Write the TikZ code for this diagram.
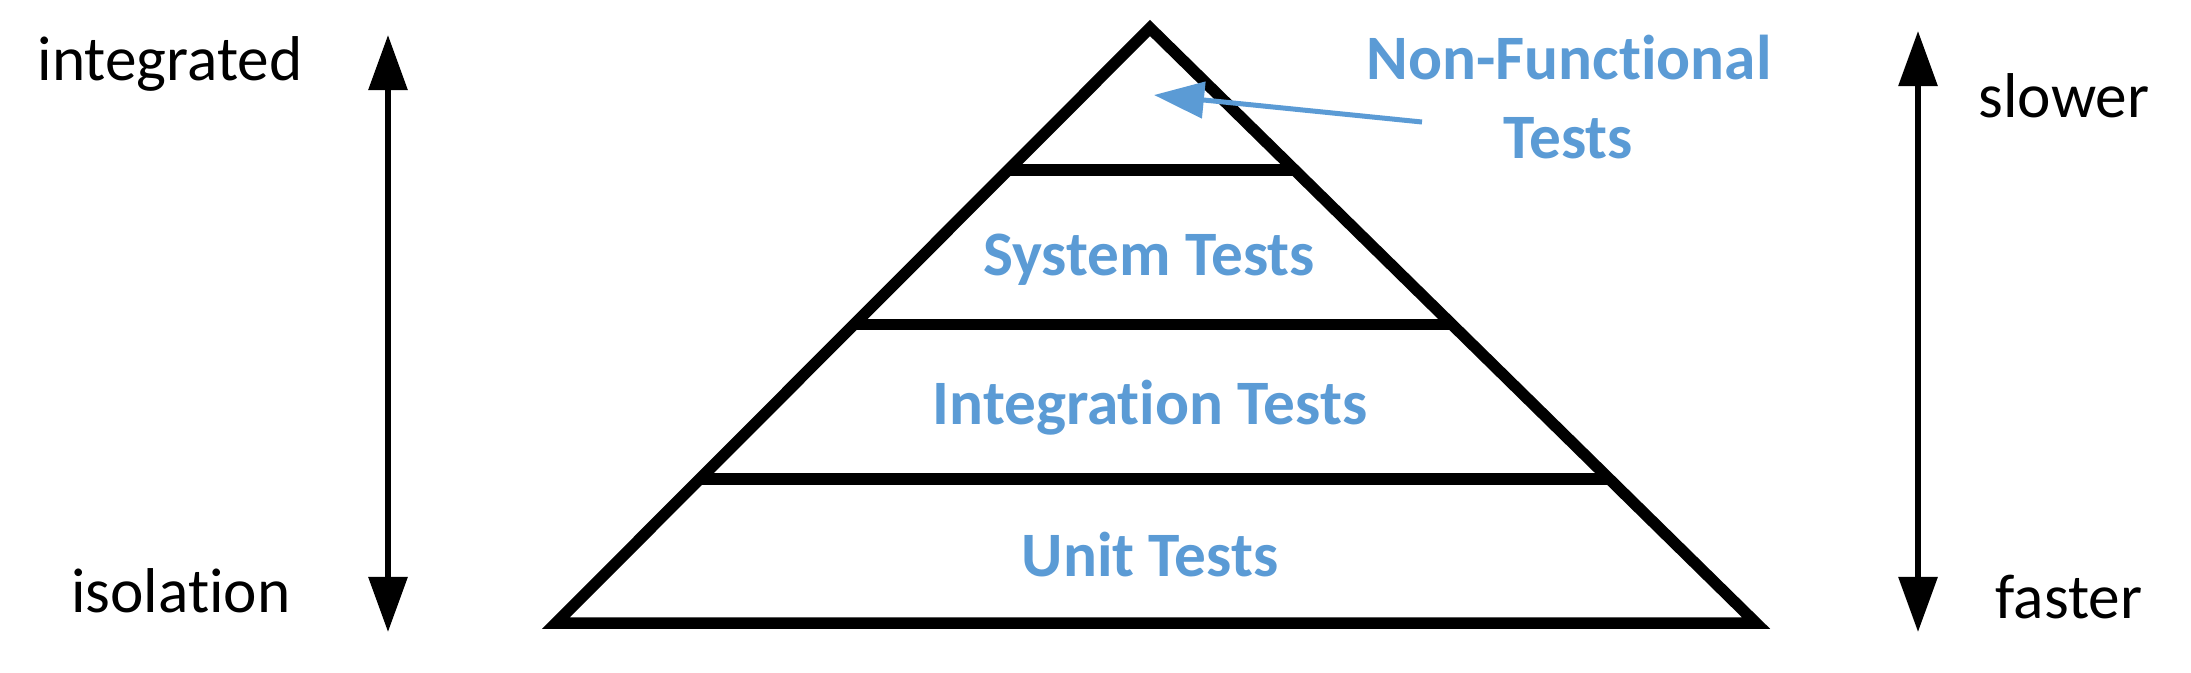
\documentclass[tikz,border=0pt]{standalone}
\usepackage{fontspec}
\setmainfont{Carlito}[Ligatures=NoCommon]
\usetikzlibrary{arrows.meta, calc}
\definecolor{testblue}{RGB}{91,155,213}

\begin{document}
\begin{tikzpicture}[x=0.01cm, y=-0.01cm,
    tier/.style={font=\fontsize{18}{22}\selectfont\bfseries, text=testblue,
                 anchor=base, inner sep=0pt},
    side/.style={font=\fontsize{18}{22}\selectfont, anchor=base, inner sep=0pt},
    frame/.style={line width=0.115cm, line join=miter},
    scalearrow/.style={{Triangle[length=0.55cm, width=0.38cm]}-{Triangle[length=0.55cm, width=0.38cm]},
                  line width=0.06cm},
    pointer/.style={-{Triangle[length=0.5cm, width=0.36cm]}, line width=0.05cm, draw=testblue}
]
\useasboundingbox (0,0) rectangle (2191,672);

% pyramid
\coordinate (apex) at (1150,28);
\coordinate (bl) at (556,623);
\coordinate (br) at (1756,623);
\draw[frame] (apex) -- (bl) -- (br) -- cycle;
\foreach \t in {0.239,0.498,0.758}
  \draw[frame] ($(apex)!\t!(bl)$) -- ($(apex)!\t!(br)$);

% levels
\node[tier] (unit) at (1150,576) {Unit Tests};
\node[tier] (integ) at (1150,424) {Integration Tests};
\node[tier] (sys) at (1149,275) {System Tests};
\node[tier] (nonfn) at (1569,79) {Non-Functional};
\node[tier] (nonfn2) at (1568,158) {Tests};

\coordinate (ptail) at (1422,122);
\coordinate (phead) at (1154,95);
\draw[pointer] (ptail) -- (phead);

% left scale
\node[side] (integrated) at (170,80) {integrated};
\node[side] (isolation) at (181,612) {isolation};
\coordinate (ltop) at (388,35);
\coordinate (lbot) at (388,632);
\draw[scalearrow] (ltop) -- (lbot);

% right scale
\node[side] (slower) at (2064,117) {slower};
\node[side] (faster) at (2069,618) {faster};
\coordinate (rtop) at (1918,31);
\coordinate (rbot) at (1918,632);
\draw[scalearrow] (rtop) -- (rbot);
\end{tikzpicture}
\end{document}
